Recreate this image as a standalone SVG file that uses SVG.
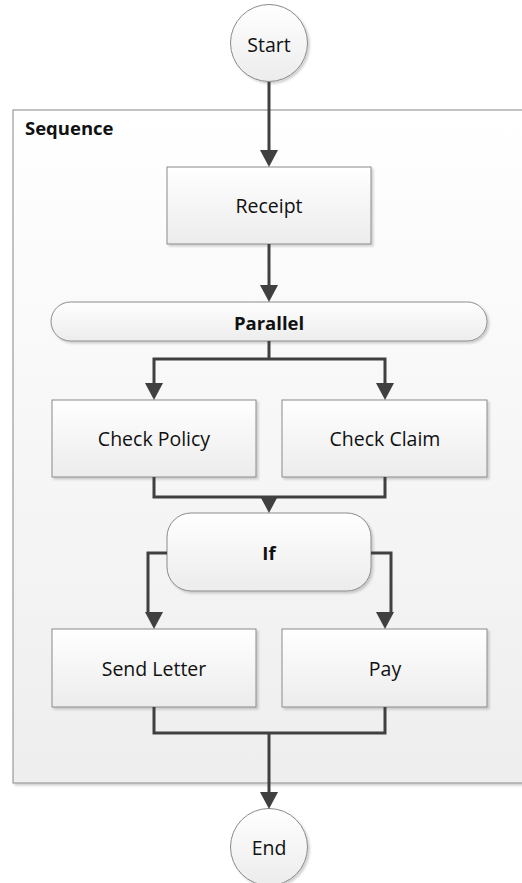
<svg xmlns="http://www.w3.org/2000/svg" width="522" height="883" viewBox="0 0 522 883">
<defs>
<linearGradient id="g" x1="0" y1="0" x2="0" y2="1">
<stop offset="0" stop-color="#ffffff"/>
<stop offset="1" stop-color="#ececec"/>
</linearGradient>
<linearGradient id="gc" x1="0" y1="0" x2="0" y2="1">
<stop offset="0" stop-color="#ffffff"/>
<stop offset="1" stop-color="#eeeeee"/>
</linearGradient>
<filter id="sh" x="-10%" y="-10%" width="130%" height="130%">
<feDropShadow dx="2" dy="2" stdDeviation="1.2" flood-color="#000" flood-opacity="0.18"/>
</filter>
<style>
.n{fill:url(#g);stroke:#8a8a8a;stroke-width:1;filter:url(#sh)}
.t{font-family:"Open Sans","Liberation Sans",sans-serif;font-size:19.5px;fill:#111;text-anchor:middle;dominant-baseline:central}
.b{font-family:"Open Sans","Liberation Sans",sans-serif;font-size:18.5px;font-weight:bold;fill:#111;text-anchor:middle;dominant-baseline:central}
.c{fill:none;stroke:#404040;stroke-width:3;stroke-linejoin:miter}
.a{fill:#404040}
</style>
</defs>
<g id="sequence">
<rect x="13" y="110" width="520" height="673" fill="url(#gc)" stroke="#9a9a9a" stroke-width="1.2" filter="url(#sh)"/>
<text x="25" y="127" class="b" style="text-anchor:start">Sequence</text>
</g>
<g id="start">
<circle cx="269" cy="43" r="38.5" class="n"/>
<text x="269" y="44" class="t">Start</text>
</g>
<g id="receipt">
<rect x="167" y="167" width="204" height="77" class="n"/>
<text x="269" y="205" class="t">Receipt</text>
</g>
<g id="parallel">
<rect x="51" y="302" width="436" height="39" rx="19.5" ry="19.5" class="n"/>
<text x="269" y="322" class="b">Parallel</text>
</g>
<g id="checkPolicy">
<rect x="52" y="400" width="204" height="77" class="n"/>
<text x="154" y="438" class="t">Check Policy</text>
</g>
<g id="checkClaim">
<rect x="282" y="400" width="205" height="77" class="n"/>
<text x="385" y="438" class="t">Check Claim</text>
</g>
<g id="if">
<rect x="167" y="513" width="204" height="78" rx="24" ry="24" class="n"/>
<text x="269" y="552" class="b">If</text>
</g>
<g id="sendLetter">
<rect x="52" y="629" width="204" height="78" class="n"/>
<text x="154" y="668" class="t">Send Letter</text>
</g>
<g id="pay">
<rect x="282" y="629" width="205" height="78" class="n"/>
<text x="385" y="668" class="t">Pay</text>
</g>
<g id="end">
<circle cx="269" cy="847" r="38.5" class="n"/>
<text x="269" y="847" class="t">End</text>
</g>
<g id="connectors">
<path class="c" d="M269,82 V150"/>
<path class="a" d="M260,150 H278 L269,167 Z"/>
<path class="c" d="M269,244 V285"/>
<path class="a" d="M260,285 H278 L269,302 Z"/>
<path class="c" d="M269,341 V359 M154,383 V359 H385 V383"/>
<path class="a" d="M145,383 H163 L154,400 Z"/>
<path class="a" d="M376,383 H394 L385,400 Z"/>
<path class="c" d="M154,477 V497 H385 V477 M269,497 V496"/>
<path class="a" d="M260,496 H278 L269,513 Z"/>
<path class="c" d="M167,553 H148 V612"/>
<path class="a" d="M145,612 H163 L154,629 Z"/>
<path class="c" d="M371,553 H391 V612"/>
<path class="a" d="M376,612 H394 L385,629 Z"/>
<path class="c" d="M154,707 V733 H385 V707 M269,733 V792"/>
<path class="a" d="M260,792 H278 L269,809 Z"/>
</g>
</svg>
